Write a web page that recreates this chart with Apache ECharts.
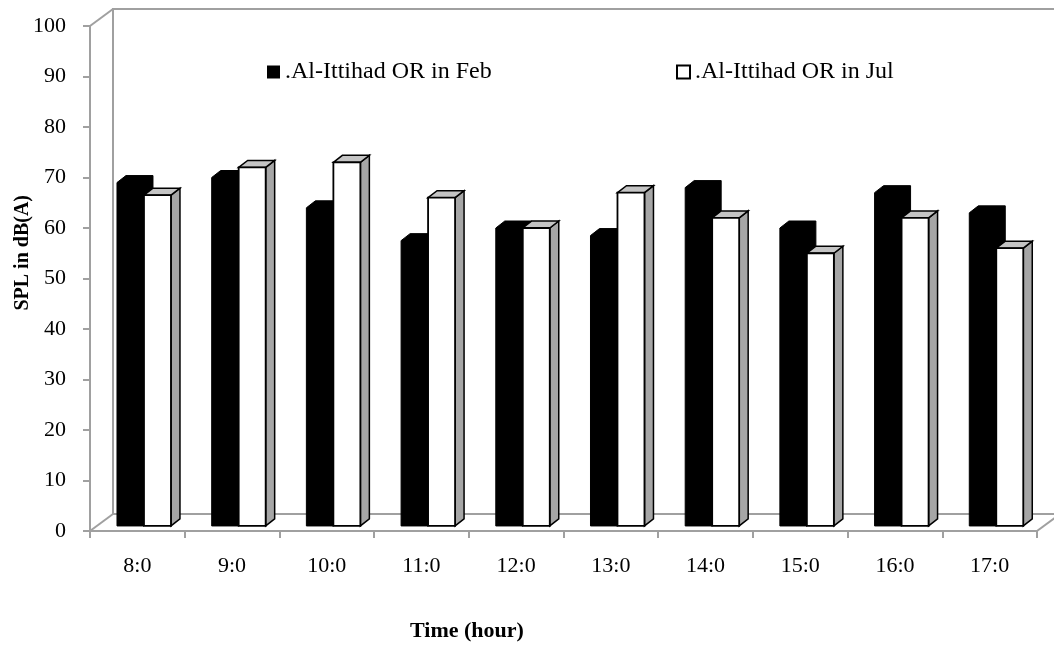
<!DOCTYPE html>
<html>
<head>
<meta charset="utf-8">
<script src="https://cdn.jsdelivr.net/npm/echarts@6/dist/echarts.min.js"></script>
<style>html,body{margin:0;padding:0;background:#fff}#c{width:1054px;height:648px}</style>
</head>
<body>
<div id="c"></div>
<script>
const categories = ['8:0','9:0','10:0','11:0','12:0','13:0','14:0','15:0','16:0','17:0'];
const febValues = [68, 69, 63, 56.5, 59, 57.5, 67, 59, 66, 62];
const julValues = [65.5, 71, 72, 65, 59, 66, 61, 54, 61, 55];
const seriesNames = ['.Al-Ittihad OR in Feb', '.Al-Ittihad OR in Jul'];
const yTicks = {min: 0, max: 100, interval: 10};

const FONT = '"Liberation Serif", "Times New Roman", serif';
const G = {left: 90, top: 26, right: 17, bottom: 117};
const W = 1054, H = 648;
const wallDX = 23, wallDY = 17;
const wallColor = '#a0a0a0';

function makeRender(kind) {
  return function (params, api) {
    const i = api.value(0), v = api.value(1);
    const bw = api.size([1, 0])[0];
    const unit = api.size([0, 1])[1];
    const c0 = api.coord([i, 0]);
    const bandStart = c0[0] - bw / 2;
    const base = c0[1] - unit;          // bars sit part-way into the floor depth
    const top = api.coord([i, v])[1] - unit;
    const w = bw * 0.285;
    const dx = bw * 0.095, dy = 7;
    const x0 = bandStart + bw * 0.285 + (kind === 1 ? w : 0);
    const x1 = x0 + w;
    if (kind === 0) {
      return {
        type: 'polygon',
        shape: {points: [[x0, base], [x0, top], [x0 + dx, top - dy], [x1 + dx, top - dy], [x1 + dx, base - dy], [x1, base]]},
        style: {fill: '#000', stroke: '#000', lineWidth: 1}
      };
    }
    return {
      type: 'group',
      children: [
        {type: 'polygon', shape: {points: [[x1, top], [x1 + dx, top - dy], [x1 + dx, base - dy], [x1, base]]},
          style: {fill: '#a6a6a6', stroke: '#000', lineWidth: 1.5}},
        {type: 'polygon', shape: {points: [[x0, top], [x0 + dx, top - dy], [x1 + dx, top - dy], [x1, top]]},
          style: {fill: '#c4c4c4', stroke: '#000', lineWidth: 1.5}},
        {type: 'rect', shape: {x: x0, y: top, width: w, height: base - top},
          style: {fill: '#fff', stroke: '#000', lineWidth: 1.8}}
      ]
    };
  };
}

const bx = G.left + wallDX, by = G.top - wallDY;
const floorFrontY = H - G.bottom, floorBackY = floorFrontY - wallDY;
const rightX = W - G.right;
const lineStyle = {stroke: wallColor, lineWidth: 2, fill: null};

const chart = echarts.init(document.getElementById('c'));
chart.setOption({
  animation: false,
  backgroundColor: '#fff',
  grid: {left: G.left, top: G.top, right: G.right, bottom: G.bottom},
  legend: [
    {left: 262, top: 55, itemWidth: 13, itemHeight: 13, itemGap: 10,
      textStyle: {fontFamily: FONT, fontSize: 24, color: '#000'},
      data: [{name: seriesNames[0], icon: 'rect', itemStyle: {color: '#000', borderColor: '#000', borderWidth: 0}}]},
    {left: 671, top: 55, itemWidth: 13, itemHeight: 13,
      textStyle: {fontFamily: FONT, fontSize: 24, color: '#000'},
      data: [{name: seriesNames[1], icon: 'rect', itemStyle: {color: '#fff', borderColor: '#000', borderWidth: 2}}]}
  ],
  xAxis: {
    type: 'category', data: categories, boundaryGap: true,
    axisLine: {lineStyle: {color: wallColor, width: 2}},
    axisTick: {show: true, length: 7, lineStyle: {color: wallColor, width: 2}},
    axisLabel: {fontFamily: FONT, fontSize: 22, color: '#000', margin: 24},
    splitLine: {show: false}
  },
  yAxis: {
    type: 'value', min: yTicks.min, max: yTicks.max, interval: yTicks.interval,
    axisLine: {show: true, lineStyle: {color: wallColor, width: 2}},
    axisTick: {show: true, length: 7, lineStyle: {color: wallColor, width: 2}},
    axisLabel: {fontFamily: FONT, fontSize: 22, color: '#000', margin: 24},
    splitLine: {show: false}
  },
  graphic: [
    {type: 'polyline', silent: true, z: 0, shape: {points: [[bx, floorBackY], [bx, by], [W + 10, by]]}, style: lineStyle},
    {type: 'line', silent: true, z: 0, shape: {x1: bx, y1: floorBackY, x2: W + 10, y2: floorBackY}, style: lineStyle},
    {type: 'line', silent: true, z: 0, shape: {x1: G.left, y1: G.top, x2: bx, y2: by}, style: lineStyle},
    {type: 'line', silent: true, z: 0, shape: {x1: G.left, y1: floorFrontY, x2: bx, y2: floorBackY}, style: lineStyle},
    {type: 'line', silent: true, z: 0, shape: {x1: rightX, y1: floorFrontY, x2: rightX + wallDX, y2: floorBackY}, style: lineStyle},
    {type: 'text', left: 13, top: 195, rotation: Math.PI / 2,
      style: {text: 'SPL in dB(A)', font: 'bold 20px ' + FONT, fill: '#000'}},
    {type: 'text', left: 410, top: 620,
      style: {text: 'Time (hour)', font: 'bold 22px ' + FONT, fill: '#000'}}
  ],
  series: [
    {name: seriesNames[0], type: 'custom', z: 3, renderItem: makeRender(0), encode: {x: 0, y: 1},
      itemStyle: {color: '#000'}, data: categories.map((c, i) => [i, febValues[i]])},
    {name: seriesNames[1], type: 'custom', z: 4, renderItem: makeRender(1), encode: {x: 0, y: 1},
      itemStyle: {color: '#fff', borderColor: '#000'}, data: categories.map((c, i) => [i, julValues[i]])}
  ]
});
</script>
</body>
</html>
